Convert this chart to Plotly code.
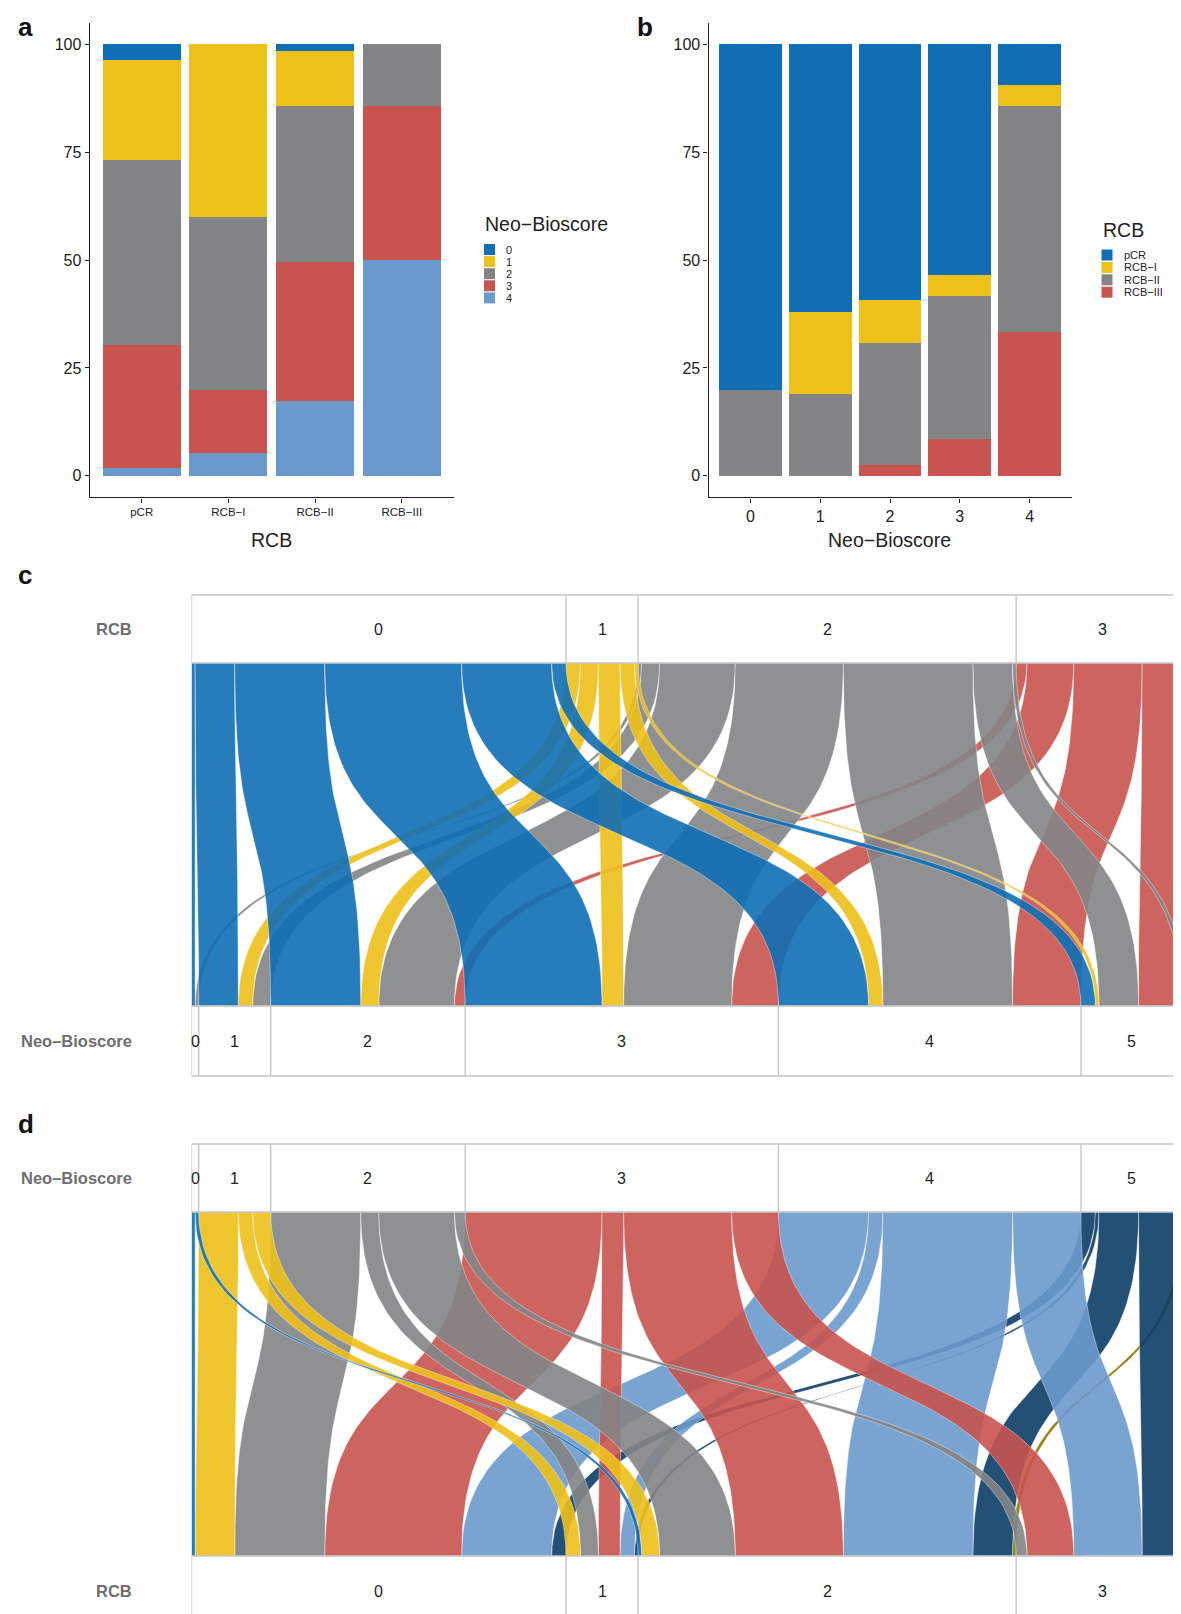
import numpy as np
import plotly.graph_objects as go

W, H = 1181, 1614
FONT = "Liberation Sans, Arial, Helvetica, sans-serif"

# ---------------- panel a : % of Neo-Bioscore level within each RCB class
a_rcb = ["pCR", "RCB−I", "RCB−II", "RCB−III"]
a_neo_levels = ["0", "1", "2", "3", "4"]
a_neo0 = [3.7, 0.0, 1.6, 0.0]
a_neo1 = [23.1, 40.0, 12.7, 0.0]
a_neo2 = [42.8, 40.0, 36.2, 14.3]
a_neo3 = [28.5, 14.8, 32.1, 35.7]
a_neo4 = [1.9, 5.2, 17.4, 50.0]

# ---------------- panel b : % of RCB class within each Neo-Bioscore level
b_neo = ["0", "1", "2", "3", "4"]
b_rcb_levels = ["pCR", "RCB−I", "RCB−II", "RCB−III"]
b_pcr = [80.0, 62.0, 59.2, 53.4, 9.5]
b_rcb1 = [0.0, 19.0, 10.0, 4.9, 4.8]
b_rcb2 = [20.0, 19.0, 28.2, 33.2, 52.4]
b_rcb3 = [0.0, 0.0, 2.6, 8.5, 33.3]

# ---------------- panels c, d : patient counts, RCB (rows) x Neo-Bioscore (cols)
cd_rcb = ["0", "1", "2", "3"]
cd_neo = ["0", "1", "2", "3", "4", "5", "6"]
n_rcb0 = [1, 11, 25, 38, 25, 4, 0]
n_rcb1 = [0, 4, 5, 6, 4, 1, 0]
n_rcb2 = [1, 5, 21, 30, 36, 11, 1]
n_rcb3 = [0, 0, 3, 13, 19, 12, 1]

# ---------------- styles
BLUE, YEL, GRAY, RED = "#106eb4", "#edc01a", "#838486", "#c8534f"
LBLUE, NAVY, OLIVE = "#6a99cc", "#0b3d66", "#8f7700"
a_cols = [BLUE, YEL, GRAY, RED, LBLUE]
b_cols = [BLUE, YEL, GRAY, RED]
c_cols = [BLUE, YEL, GRAY, RED]
d_cols = [BLUE, YEL, GRAY, RED, LBLUE, NAVY, OLIVE]
BOX = "#c4c4c4"
TXT = "#222222"


def rgba(hexc, a):
    h = hexc.lstrip("#")
    return "rgba(%d,%d,%d,%.3f)" % (int(h[0:2], 16), int(h[2:4], 16), int(h[4:6], 16), a)


def px_x(x):
    return x / W


def px_y(y):
    return 1 - y / H


fig = go.Figure()

# ---------------- panel a bars (stack bottom = level 4)
a_vals = [a_neo0, a_neo1, a_neo2, a_neo3, a_neo4]
for k in range(4, -1, -1):
    fig.add_trace(go.Bar(x=list(range(len(a_rcb))), y=a_vals[k], width=0.9,
                         marker=dict(color=a_cols[k], line=dict(width=0)),
                         xaxis="x", yaxis="y", showlegend=False, hoverinfo="skip"))

# ---------------- panel b bars (stack bottom = RCB-III)
b_vals = [b_pcr, b_rcb1, b_rcb2, b_rcb3]
for k in range(3, -1, -1):
    fig.add_trace(go.Bar(x=list(range(len(b_neo))), y=b_vals[k], width=0.9,
                         marker=dict(color=b_cols[k], line=dict(width=0)),
                         xaxis="x2", yaxis="y2", showlegend=False, hoverinfo="skip"))

# ---------------- alluvial ribbons
M = np.array([n_rcb0, n_rcb1, n_rcb2, n_rcb3], dtype=float)
N = M.sum()
tt = np.linspace(0, 1, 70)
KC = 0.6
curve_y = 1 - (3 * (1 - tt) ** 2 * tt * KC + 3 * (1 - tt) * tt ** 2 * (1 - KC) + tt ** 3)


def curve_x(x0, x1):
    return (1 - tt) ** 3 * x0 + 3 * (1 - tt) ** 2 * tt * x0 + 3 * (1 - tt) * tt ** 2 * x1 + tt ** 3 * x1


def ribbon(top0, top1, bot0, bot1):
    lx = curve_x(top0, bot0)
    rx = curve_x(top1, bot1)
    xs = np.concatenate([lx, rx[::-1], lx[:1]])
    ys = np.concatenate([curve_y, curve_y[::-1], curve_y[:1]])
    return xs, ys


def alluvial(T, xa, ya, cols):
    """T[i][j]: top category i -> bottom category j ; coloured by top category."""
    nt, nb = T.shape
    top_start = np.concatenate([[0], np.cumsum(T.sum(axis=1))[:-1]])
    bot_start = np.concatenate([[0], np.cumsum(T.sum(axis=0))[:-1]])
    top_off = np.zeros((nt, nb))
    bot_off = np.zeros((nt, nb))
    for i in range(nt):
        acc = top_start[i]
        for j in range(nb):
            top_off[i, j] = acc
            acc += T[i, j]
    for j in range(nb):
        acc = bot_start[j]
        for i in range(nt):
            bot_off[i, j] = acc
            acc += T[i, j]
    for i in range(nt - 1, -1, -1):
        for j in range(nb):
            if T[i, j] <= 0:
                continue
            xs, ys = ribbon(top_off[i, j], top_off[i, j] + T[i, j],
                            bot_off[i, j], bot_off[i, j] + T[i, j])
            fig.add_trace(go.Scatter(x=xs, y=ys, mode="lines", fill="toself",
                                     fillcolor=rgba(cols[i], 0.9),
                                     line=dict(color="rgba(255,255,255,0.55)", width=0.7),
                                     xaxis=xa, yaxis=ya, showlegend=False, hoverinfo="skip"))
    return np.cumsum(T.sum(axis=1)), np.cumsum(T.sum(axis=0))


top_c, bot_c = alluvial(M, "x3", "y3", c_cols)
top_d, bot_d = alluvial(M.T, "x4", "y4", d_cols)

# ---------------- geometry of c / d (pixels)
XL = 183.5
c_box_top, c_rib_top, c_rib_bot, c_box_bot = 587, 655, 998, 1068
d_box_top, d_rib_top, d_rib_bot, d_box_bot = 1136, 1204, 1548, 1614
c_h = c_rib_bot - c_rib_top
d_h = d_rib_bot - d_rib_top


def yc(p):
    return (c_rib_bot - p) / c_h


def yd(p):
    return (d_rib_bot - p) / d_h


shapes = []
annotations = []


def hline(xa, ya, y, x0=0, x1=None):
    shapes.append(dict(type="line", xref=xa, yref=ya, x0=x0, x1=N if x1 is None else x1,
                       y0=y, y1=y, line=dict(color=BOX, width=1.3), layer="above"))


def vline(xa, ya, x, y0, y1):
    shapes.append(dict(type="line", xref=xa, yref=ya, x0=x, x1=x, y0=y0, y1=y1,
                       line=dict(color=BOX, width=1.3), layer="above"))


def box_row(xa, ya, bounds, labels, y0, y1, label_y=None, draw_bottom=True):
    hline(xa, ya, y1)
    if draw_bottom:
        hline(xa, ya, y0)
    prev = 0
    vline(xa, ya, 0, y0, y1)
    for b, lab in zip(bounds, labels):
        if b < N:
            vline(xa, ya, b, y0, y1)
        cx, anchor = (prev + b) / 2, "center"
        if N - cx < 2:  # category squeezed at the cropped right edge
            cx, anchor = N - 1.2, "right"
        annotations.append(dict(xref=xa, yref=ya, x=cx,
                                y=(y0 + y1) / 2 if label_y is None else label_y,
                                text=lab, showarrow=False, xanchor=anchor, yanchor="middle",
                                borderpad=0,
                                font=dict(size=16, color=TXT, family=FONT)))
        prev = b


# panel c : RCB on top, Neo-Bioscore bottom
box_row("x3", "y3", top_c, cd_rcb, yc(c_rib_top), yc(c_box_top))
box_row("x3", "y3", bot_c, cd_neo, yc(c_box_bot), yc(c_rib_bot))
# panel d : Neo-Bioscore on top, RCB bottom (bottom row cropped by the figure edge)
box_row("x4", "y4", top_d, cd_neo, yd(d_rib_top), yd(d_box_top))
box_row("x4", "y4", bot_d, cd_rcb, yd(d_box_bot + 40), yd(d_rib_bot), label_y=yd(1583),
        draw_bottom=False)

LBL = "#6e6e6e"
for text, y in [("RCB", 621), ("Neo–Bioscore", 1033), ("Neo–Bioscore", 1170), ("RCB", 1583)]:
    annotations.append(dict(xref="paper", yref="paper", x=px_x(126), y=px_y(y), text="<b>%s</b>" % text,
                            showarrow=False, xanchor="right", yanchor="middle",
                            font=dict(size=16.5, color=LBL, family=FONT)))

# panel letters
for text, x, y in [("a", 8, 19), ("b", 627, 19), ("c", 8, 567), ("d", 8, 1116)]:
    annotations.append(dict(xref="paper", yref="paper", x=px_x(x), y=px_y(y), text="<b>%s</b>" % text,
                            showarrow=False, xanchor="left", yanchor="middle",
                            font=dict(size=26, color="#111111", family=FONT)))

# axis titles
for text, x in [("RCB", 263.7), ("Neo−Bioscore", 881.5)]:
    annotations.append(dict(xref="paper", yref="paper", x=px_x(x), y=px_y(532), text=text,
                            showarrow=False, xanchor="center", yanchor="middle",
                            font=dict(size=19.5, color=TXT, family=FONT)))


# manual legends
def legend(x0, ytitle, title, labels, cols, y_first, step):
    annotations.append(dict(xref="paper", yref="paper", x=px_x(x0 - 1), y=px_y(ytitle), text=title,
                            showarrow=False, xanchor="left", yanchor="middle",
                            font=dict(size=19.5, color=TXT, family=FONT)))
    for k, (lab, col) in enumerate(zip(labels, cols)):
        yy = y_first + k * step
        shapes.append(dict(type="rect", xref="paper", yref="paper",
                           x0=px_x(x0), x1=px_x(x0 + 11), y0=px_y(yy - 5.5), y1=px_y(yy + 5.5),
                           fillcolor=col, line=dict(width=0)))
        annotations.append(dict(xref="paper", yref="paper", x=px_x(x0 + 20), y=px_y(yy), text=lab,
                                showarrow=False, xanchor="left", yanchor="middle",
                                font=dict(size=11, color=TXT, family=FONT)))


legend(476, 216, "Neo−Bioscore", a_neo_levels, a_cols, 241.5, 12.1)
legend(1093.5, 221.5, "RCB", b_rcb_levels, b_cols, 247, 12.4)

axis_common = dict(showgrid=False, zeroline=False, showline=True, linecolor=TXT, linewidth=1.2,
                   ticks="outside", ticklen=4, tickwidth=1.1, tickcolor=TXT, fixedrange=True)
ydom = [px_y(489.4), px_y(14.7)]
hid = dict(visible=False, fixedrange=True)

fig.update_layout(
    width=W, height=H, margin=dict(l=0, r=0, t=0, b=0),
    paper_bgcolor="white", plot_bgcolor="white", barmode="stack", showlegend=False,
    font=dict(family=FONT, color=TXT),
    xaxis=dict(domain=[px_x(81.7), px_x(445.8)], range=[-0.6, 3.6], anchor="y",
               tickvals=list(range(len(a_rcb))), ticktext=a_rcb,
               tickfont=dict(size=11.5, color=TXT), **axis_common),
    yaxis=dict(domain=ydom, range=[-5, 105], anchor="x", tickvals=[0, 25, 50, 75, 100],
               tickfont=dict(size=16, color=TXT), **axis_common),
    xaxis2=dict(domain=[px_x(700.5), px_x(1063.5)], range=[-0.6, 4.6], anchor="y2",
                tickvals=list(range(len(b_neo))), ticktext=b_neo,
                tickfont=dict(size=16, color=TXT), **axis_common),
    yaxis2=dict(domain=ydom, range=[-5, 105], anchor="x2", tickvals=[0, 25, 50, 75, 100],
                tickfont=dict(size=16, color=TXT), **axis_common),
    xaxis3=dict(domain=[px_x(XL), 1], range=[0, N], anchor="y3", **hid),
    yaxis3=dict(domain=[px_y(c_box_bot + 3), px_y(c_box_top - 3)],
                range=[yc(c_box_bot + 3), yc(c_box_top - 3)], anchor="x3", **hid),
    xaxis4=dict(domain=[px_x(XL), 1], range=[0, N], anchor="y4", **hid),
    yaxis4=dict(domain=[0, px_y(d_box_top - 3)],
                range=[yd(H), yd(d_box_top - 3)], anchor="x4", **hid),
    shapes=shapes, annotations=annotations,
)

fig.write_html("out.html")
